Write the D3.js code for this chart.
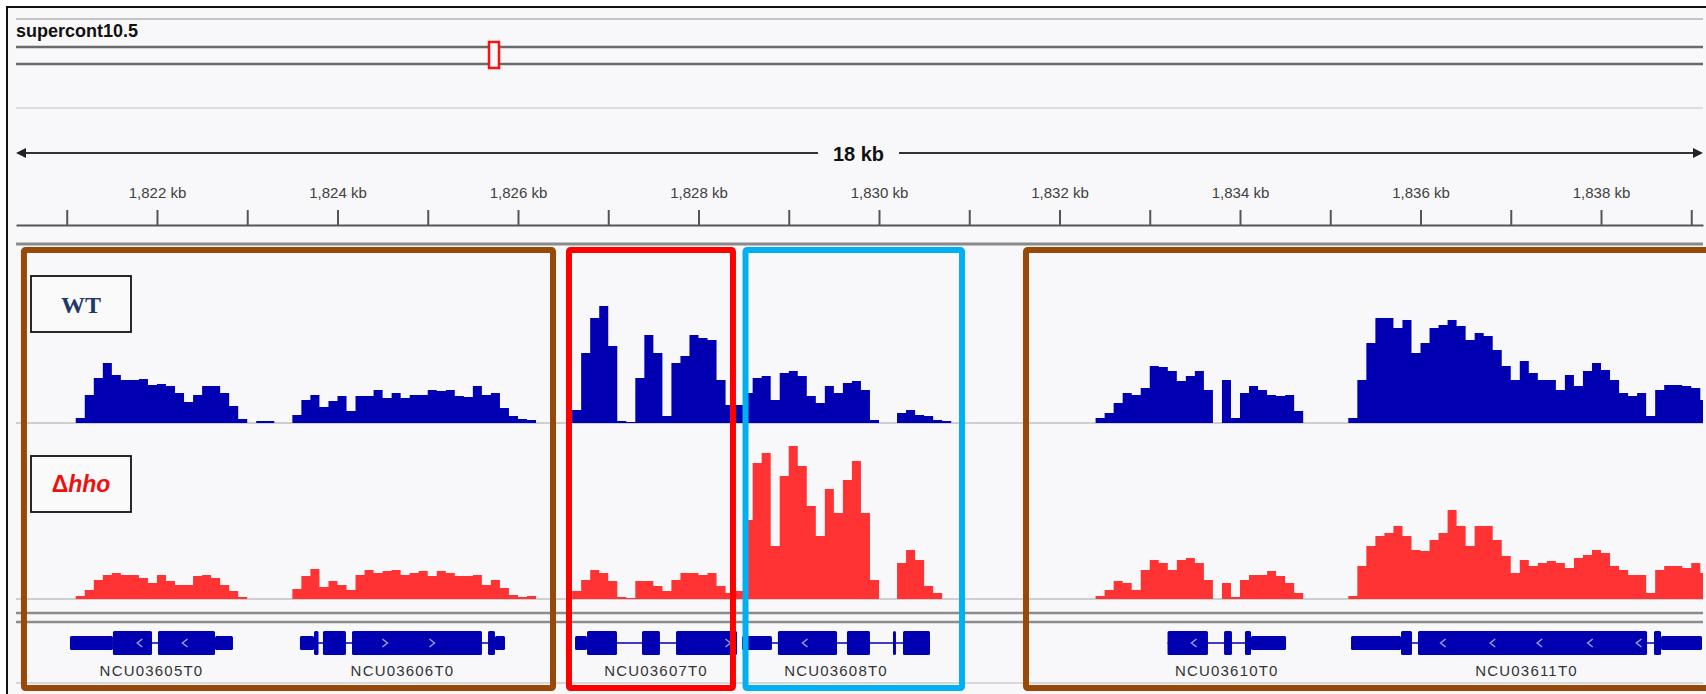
<!DOCTYPE html>
<html lang="en">
<head>
<meta charset="UTF-8">
<title>supercont10.5 coverage</title>
<script src="https://cdn.jsdelivr.net/npm/d3@7"></script>
<style>
  html, body { margin: 0; padding: 0; background: #fff; }
  svg { display: block; font-family: "Liberation Sans", Arial, sans-serif; }
</style>
</head>
<body>
<svg width="1706" height="694"></svg>
<script>
// locus
const chromName = "supercont10.5";
const chromLengthKb = 6458;
const viewStart = 1820.438, viewEnd = 1839.13;
const tickKb = d3.range(1821, 1840);

// coverage, 0.1 kb bins starting at binStart
const binStart = 1820.5, binWidth = 0.1;
const wtCoverage = [
  0, 0, 0, 0, 0, 0, 5, 28, 45, 60, 48, 43, 43, 44, 38, 39, 37, 30, 21, 28,
  37, 37, 30, 17, 4, 0, 2, 2, 0, 0, 8, 23, 28, 16, 22, 27, 12, 27, 27, 33,
  25, 30, 25, 28, 28, 33, 32, 33, 27, 26, 37, 28, 30, 15, 7, 4, 3, 0, 0, 0,
  0, 13, 70, 105, 117, 77, 2, 1, 45, 88, 70, 7, 60, 67, 88, 85, 83, 43, 18, 18,
  30, 45, 47, 23, 50, 52, 47, 27, 20, 37, 30, 40, 42, 33, 3, 0, 0, 10, 13, 8,
  7, 3, 2, 0, 0, 0, 0, 0, 0, 0, 0, 0, 0, 0, 0, 0, 0, 0, 0, 5,
  10, 20, 30, 28, 35, 57, 56, 52, 42, 47, 52, 33, 0, 43, 5, 30, 37, 33, 28, 27,
  28, 12, 0, 0, 0, 0, 0, 5, 43, 80, 105, 105, 95, 103, 70, 80, 95, 98, 103, 97,
  83, 90, 87, 73, 57, 43, 62, 50, 43, 43, 33, 48, 37, 52, 60, 53, 43, 30, 27, 30,
  7, 33, 38, 38, 37, 35, 23
];
const hhoCoverage = [
  0, 0, 0, 0, 0, 0, 3, 9, 19, 24, 26, 24, 24, 21, 16, 24, 18, 14, 14, 23,
  24, 21, 14, 8, 2, 0, 0, 0, 0, 0, 10, 23, 30, 12, 18, 14, 9, 24, 29, 26,
  28, 29, 24, 26, 28, 23, 28, 26, 23, 23, 24, 14, 19, 11, 4, 2, 3, 0, 0, 0,
  0, 8, 19, 29, 26, 18, 2, 1, 18, 18, 13, 8, 19, 26, 26, 24, 26, 13, 6, 8,
  79, 136, 146, 53, 123, 153, 133, 93, 63, 110, 86, 119, 138, 86, 19, 0, 0, 36, 49, 39,
  13, 6, 0, 0, 0, 0, 0, 0, 0, 0, 0, 0, 0, 0, 0, 0, 0, 0, 0, 3,
  9, 18, 16, 9, 29, 39, 36, 29, 39, 41, 36, 19, 0, 16, 2, 19, 24, 24, 28, 23,
  16, 6, 0, 0, 0, 0, 0, 3, 33, 53, 63, 66, 73, 63, 49, 48, 59, 66, 89, 73,
  53, 73, 73, 59, 43, 26, 39, 33, 36, 38, 36, 31, 41, 44, 49, 46, 33, 29, 24, 24,
  6, 29, 33, 33, 31, 36, 26
];

// gene models (kb); blocks: [start, end, type]
const genes = [
  { name: "NCU03605T0", strand: "-", start: 1821.036, end: 1822.842,
    blocks: [[1821.036, 1821.512, "utr"], [1821.512, 1821.945, "cds"], [1822.011, 1822.643, "cds"], [1822.643, 1822.842, "utr"]],
    chevrons: [1821.81, 1822.31] },
  { name: "NCU03606T0", strand: "+", start: 1823.584, end: 1825.856,
    blocks: [[1823.584, 1823.740, "utr"], [1823.740, 1823.790, "cds"], [1823.839, 1824.094, "cds"], [1824.161, 1825.601, "cds"], [1825.668, 1825.745, "cds"], [1825.745, 1825.856, "utr"]],
    chevrons: [1824.526, 1825.047] },
  { name: "NCU03607T0", strand: "+", start: 1826.632, end: 1828.427,
    blocks: [[1826.632, 1826.765, "utr"], [1826.765, 1827.097, "cds"], [1827.374, 1827.573, "cds"], [1827.751, 1828.427, "cds"]],
    chevrons: [1828.327] },
  { name: "NCU03608T0", strand: "-", start: 1828.482, end: 1830.565,
    blocks: [[1828.482, 1828.814, "utr"], [1828.880, 1829.535, "cds"], [1829.645, 1829.900, "cds"], [1830.155, 1830.188, "cds"], [1830.266, 1830.565, "cds"]],
    chevrons: [1829.18] },
  { name: "NCU03610T0", strand: "-", start: 1833.197, end: 1834.510,
    blocks: [[1833.197, 1833.645, "cds"], [1833.823, 1833.911, "cds"], [1834.055, 1834.122, "cds"], [1834.122, 1834.510, "utr"]],
    chevrons: [1833.49] },
  { name: "NCU03611T0", strand: "-", start: 1835.230, end: 1839.119,
    blocks: [[1835.230, 1835.784, "utr"], [1835.784, 1835.906, "cds"], [1835.972, 1838.510, "cds"], [1838.587, 1838.665, "cds"], [1838.665, 1839.119, "utr"]],
    chevrons: [1836.25, 1836.80, 1837.32, 1837.88, 1838.42] }
];

// highlighted regions drawn over the tracks
const highlights = [
  { start: 1820.526, end: 1826.388, color: "#984807" },
  { start: 1826.565, end: 1828.382, color: "#ff0000" },
  { start: 1828.521, end: 1830.920, color: "#00b0f0" },
  { start: 1831.629, end: 1840.2, color: "#984807" }
];

const trackNames = ["WT", "hho"];

const W = 1706, H = 694;
const left = 16, right = 1703;
const svg = d3.select("svg");

const x = d3.scaleLinear().domain([viewStart, viewEnd]).range([left, right]);

svg.append("defs").append("clipPath").attr("id", "data-clip")
  .append("rect").attr("x", left).attr("y", 0).attr("width", right - left).attr("height", H);

// frame
svg.append("rect")
  .attr("x", 7).attr("y", 7).attr("width", W).attr("height", H)
  .attr("fill", "#f8f8fa").attr("stroke", "#111").attr("stroke-width", 2);

function hline(y, color, w) {
  svg.append("line")
    .attr("x1", left).attr("x2", right).attr("y1", y).attr("y2", y)
    .attr("stroke", color).attr("stroke-width", w);
}

// ideogram
hline(19, "#c4c4c4", 2);
svg.append("text")
  .attr("x", left).attr("y", 37)
  .attr("font-size", 18).attr("font-weight", "bold").attr("fill", "#111")
  .text(chromName);
hline(47, "#6a6a6a", 2.5);
hline(64, "#6a6a6a", 2.5);
const ideo = d3.scaleLinear().domain([0, chromLengthKb]).range([left, right]);
const mid = ideo((viewStart + viewEnd) / 2);
svg.append("rect")
  .attr("x", mid - 5).attr("y", 42).attr("width", 10).attr("height", 26)
  .attr("fill", "#f8f8fa").attr("stroke", "#ff1010").attr("stroke-width", 2.5);
hline(108, "#dedede", 2);

// ruler span
const spanLabel = Math.floor(viewEnd - viewStart) + " kb";
const ry = 153, gapL = 818, gapR = 899;
svg.append("line").attr("x1", left + 8).attr("x2", gapL).attr("y1", ry).attr("y2", ry)
  .attr("stroke", "#333").attr("stroke-width", 2);
svg.append("line").attr("x1", gapR).attr("x2", right - 8).attr("y1", ry).attr("y2", ry)
  .attr("stroke", "#333").attr("stroke-width", 2);
svg.append("path").attr("d", `M${left},${ry}L${left + 10},${ry - 5}L${left + 10},${ry + 5}Z`).attr("fill", "#222");
svg.append("path").attr("d", `M${right},${ry}L${right - 10},${ry - 5}L${right - 10},${ry + 5}Z`).attr("fill", "#222");
svg.append("text")
  .attr("x", (gapL + gapR) / 2).attr("y", ry + 8)
  .attr("text-anchor", "middle").attr("font-size", 20).attr("font-weight", "bold").attr("fill", "#111")
  .text(spanLabel);

// ruler ticks
const axis = d3.axisTop(x)
  .tickValues(tickKb)
  .tickSize(15).tickSizeOuter(0).tickPadding(12)
  .tickFormat(d => d % 2 === 0 ? d3.format(",")(d) + " kb" : "");
const ag = svg.append("g").attr("transform", "translate(0,225)").call(axis);
ag.select(".domain").attr("stroke", "#555").attr("stroke-width", 2);
ag.selectAll(".tick line").attr("stroke", "#555").attr("stroke-width", 2);
ag.selectAll(".tick text")
  .attr("font-family", "Liberation Sans, Arial, sans-serif")
  .attr("font-size", 15).attr("fill", "#404040");

hline(244, "#8a8a8a", 3);

// coverage tracks
const tracks = [
  { name: trackNames[0], values: wtCoverage, base: 423, color: "#0000b2" },
  { name: trackNames[1], values: hhoCoverage, base: 599, color: "#ff3333" }
];

tracks.forEach(t => {
  const y = d3.scaleLinear().domain([0, 170]).range([t.base, t.base - 170]);
  const pts = t.values.map((v, i) => ({ kb: binStart + i * binWidth, v }));
  pts.push({ kb: binStart + t.values.length * binWidth, v: t.values[t.values.length - 1] });
  hline(t.base, "#cfcfcf", 2);
  svg.append("path")
    .datum(pts)
    .attr("clip-path", "url(#data-clip)")
    .attr("fill", t.color)
    .attr("d", d3.area()
      .curve(d3.curveStepAfter)
      .x(d => x(d.kb))
      .y0(t.base)
      .y1(d => y(d.v)));
});

hline(613, "#8c8c8c", 2.5);
hline(622, "#8c8c8c", 2.5);

// genes
const gy = 643, cdsH = 24, utrH = 14;
const geneColor = "#0000b2";
const gg = svg.append("g").attr("clip-path", "url(#data-clip)");
genes.forEach(g => {
  gg.append("line")
    .attr("x1", x(g.start)).attr("x2", x(g.end)).attr("y1", gy).attr("y2", gy)
    .attr("stroke", geneColor).attr("stroke-width", 1.5);
  g.blocks.forEach(b => {
    const h = b[2] === "cds" ? cdsH : utrH;
    gg.append("rect")
      .attr("x", x(b[0])).attr("width", Math.max(1, x(b[1]) - x(b[0])))
      .attr("y", gy - h / 2).attr("height", h)
      .attr("rx", 1.5)
      .attr("fill", geneColor);
  });
  g.chevrons.forEach(c => {
    const cx = x(c), s = g.strand === "-" ? 1 : -1;
    gg.append("path")
      .attr("d", `M${cx + 2.5 * s},${gy - 4}L${cx - 2.5 * s},${gy}L${cx + 2.5 * s},${gy + 4}`)
      .attr("fill", "none").attr("stroke", "#9b9bd8").attr("stroke-width", 1.5);
  });
  svg.append("text")
    .attr("x", x((g.start + g.end) / 2)).attr("y", 676)
    .attr("text-anchor", "middle").attr("font-size", 15)
    .attr("letter-spacing", 1.2).attr("fill", "#333")
    .text(g.name);
});

hline(683, "#d8d8d8", 2);

// track label boxes
svg.append("rect").attr("x", 31).attr("y", 276).attr("width", 100).attr("height", 56)
  .attr("fill", "#fafafa").attr("stroke", "#111").attr("stroke-width", 1.8);
svg.append("text")
  .attr("x", 81).attr("y", 313).attr("text-anchor", "middle")
  .attr("font-family", "Liberation Serif, Times New Roman, serif")
  .attr("font-size", 24).attr("font-weight", "bold").attr("fill", "#1f3864")
  .text(tracks[0].name);

svg.append("rect").attr("x", 31).attr("y", 456).attr("width", 100).attr("height", 56)
  .attr("fill", "#fafafa").attr("stroke", "#111").attr("stroke-width", 1.8);
const ht = svg.append("text")
  .attr("x", 81).attr("y", 492).attr("text-anchor", "middle")
  .attr("font-size", 23).attr("font-weight", "bold").attr("fill", "#ee1111");
ht.append("tspan").text("\u0394");
ht.append("tspan").attr("font-style", "italic").text(tracks[1].name);

// highlight boxes
svg.selectAll(".hl")
  .data(highlights)
  .enter().append("rect")
  .attr("class", "hl")
  .attr("x", d => x(d.start))
  .attr("width", d => x(d.end) - x(d.start))
  .attr("y", 250).attr("height", 438)
  .attr("fill", "none")
  .attr("stroke", d => d.color)
  .attr("stroke-width", 6)
  .attr("rx", 1.5);
</script>
</body>
</html>
